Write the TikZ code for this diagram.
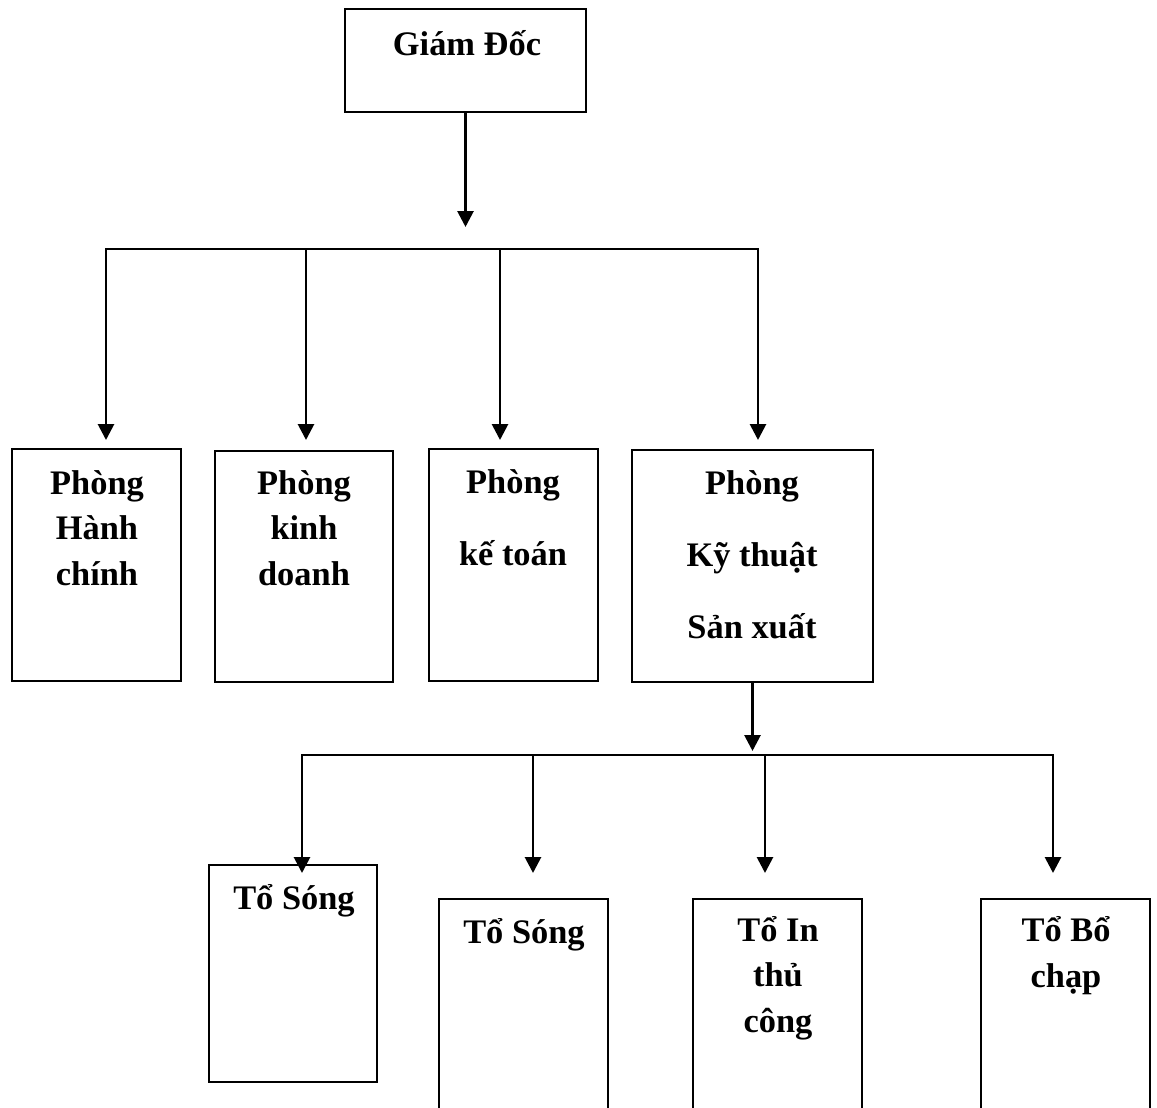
\documentclass[tikz,border=0pt]{standalone}
\usepackage{fontspec}
\setmainfont{Liberation Serif}
\usetikzlibrary{arrows.meta,positioning}

\begin{document}
\begin{tikzpicture}[
  x=0.5pt, y=-0.5pt,
  unit/.style={
    rectangle,
    draw,
    line width=1pt,
    inner sep=0pt
  },
  lbl/.style={
    align=center,
    anchor=base,
    inner sep=0pt,
    font=\fontsize{17.2}{22.75}\selectfont\bfseries
  },
  link/.style={line width=1.4pt, line cap=rect},
  arrow/.style={-{Triangle[length=8pt,width=8pt]}, line width=1.4pt}
]
\useasboundingbox (0,0) rectangle (1157,1108);
\clip (0,0) rectangle (1157,1108);

% boxes
\node[unit, minimum width=120.5pt, minimum height=51.5pt] (gd) at (465.5,60.5) {};

\node[unit, minimum width=84.5pt, minimum height=116pt] (hc) at (96.5,565) {};
\node[unit, minimum width=89pt, minimum height=115.5pt] (kd) at (304,566.5) {};
\node[unit, minimum width=84.5pt, minimum height=116pt] (kt) at (513.5,565) {};
\node[unit, minimum width=120.5pt, minimum height=116pt] (ktsx) at (752.5,566) {};

\node[unit, minimum width=84pt, minimum height=108.5pt] (ts1) at (293,973.5) {};
\node[unit, minimum width=84.5pt, minimum height=116pt] (ts2) at (523.5,1015) {};
\node[unit, minimum width=84.5pt, minimum height=116pt] (tin) at (777.5,1015) {};
\node[unit, minimum width=84.5pt, minimum height=116pt] (tbc) at (1065.5,1015) {};

% labels (base = last line)
\node[lbl] (gd-l) at (467,55) {Giám Đốc};
\node[lbl] (hc-l) at (97,585) {Phòng\\Hành\\chính};
\node[lbl] (kd-l) at (304,585) {Phòng\\kinh\\doanh};
\node[lbl] (kt-l) at (513,565) {Phòng\\[13.25pt]kế toán};
\node[lbl] (ktsx-l) at (752,638) {Phòng\\[13.25pt]Kỹ thuật\\[13.25pt]Sản xuất};
\node[lbl] (ts1-l) at (294,909) {Tổ Sóng};
\node[lbl] (ts2-l) at (524,943) {Tổ Sóng};
\node[lbl] (tin-l) at (778,1032) {Tổ In\\thủ\\công};
\node[lbl] (tbc-l) at (1066,987) {Tổ Bổ\\chạp};

% first level
\coordinate (busA-l) at (106,249);
\coordinate (busA-r) at (758,249);
\draw[arrow, shorten >=11pt] (gd) -- (gd |- busA-l);
\draw[link] (busA-l) -- (busA-r);
\foreach \x/\n in {106/hc,306/kd,500/kt,758/ktsx}{
  \coordinate (top-\n) at (\x,249);
  \draw[arrow] (top-\n) -- ++(0,191);
}

% second level
\coordinate (busB-l) at (302,755);
\coordinate (busB-r) at (1053,755);
\draw[arrow, shorten >=2pt] (ktsx) -- (ktsx |- busB-l);
\draw[link] (busB-l) -- (busB-r);
\foreach \x/\n in {302/ts1,533/ts2,765/tin,1053/tbc}{
  \coordinate (top-\n) at (\x,755);
  \draw[arrow] (top-\n) -- ++(0,118);
}

\end{tikzpicture}
\end{document}
